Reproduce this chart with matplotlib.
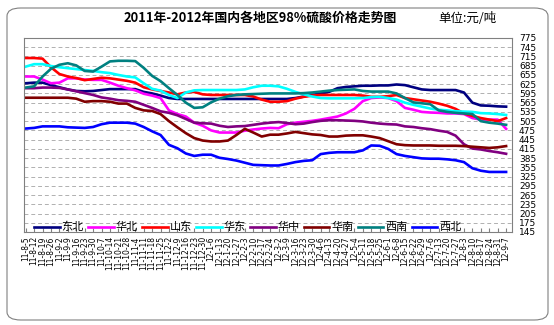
import matplotlib
matplotlib.use("Agg")
import matplotlib.pyplot as plt
from matplotlib.patches import FancyBboxPatch

plt.rcParams['font.family'] = ['Noto Sans CJK SC', 'DejaVu Sans']

# weekly dates (Fridays) 2011-8-5 .. 2012-9-7
dates = ["11-8-5", "11-8-12", "11-8-19", "11-8-26", "11-9-2", "11-9-9", "11-9-16",
         "11-9-23", "11-9-30", "11-10-7", "11-10-14", "11-10-21", "11-10-28",
         "11-11-4", "11-11-11", "11-11-18", "11-11-25", "11-12-2", "11-12-9",
         "11-12-16", "11-12-23", "11-12-30", "12-1-6", "12-1-13", "12-1-20",
         "12-1-27", "12-2-3", "12-2-10", "12-2-17", "12-2-24", "12-3-2", "12-3-9",
         "12-3-16", "12-3-23", "12-3-30", "12-4-6", "12-4-13", "12-4-20", "12-4-27",
         "12-5-4", "12-5-11", "12-5-18", "12-5-25", "12-6-1", "12-6-8", "12-6-15",
         "12-6-22", "12-6-29", "12-7-6", "12-7-13", "12-7-20", "12-7-27", "12-8-3",
         "12-8-10", "12-8-17", "12-8-24", "12-8-31", "12-9-7"]

dongbei = [628, 630, 630, 622, 615, 608, 603, 602, 603, 606, 609, 609, 609, 609, 600,
           595, 588, 580, 577, 577, 577, 577, 577, 577, 577, 577, 577, 577, 577, 577,
           577, 577, 580, 585, 590, 595, 600, 612, 616, 618, 620, 620, 621, 621, 624,
           622, 615, 608, 606, 606, 606, 606, 598, 565, 556, 555, 553, 552]
huabei = [650, 650, 640, 628, 630, 644, 644, 640, 639, 639, 630, 620, 612, 605, 594,
          588, 580, 540, 528, 520, 500, 490, 475, 468, 468, 468, 474, 478, 481, 483,
          482, 495, 500, 503, 506, 510, 515, 520, 530, 545, 570, 580, 582, 580, 570,
          548, 542, 535, 533, 532, 530, 530, 528, 515, 510, 510, 510, 480]
shandong = [710, 710, 708, 680, 658, 650, 645, 638, 642, 646, 644, 640, 636, 630, 615,
            608, 603, 598, 592, 598, 600, 592, 590, 590, 590, 590, 590, 585, 575, 568,
            568, 570, 578, 584, 588, 590, 590, 590, 590, 590, 588, 584, 584, 586, 590,
            580, 576, 572, 568, 562, 555, 545, 530, 522, 515, 510, 505, 515]
huadong = [682, 690, 690, 684, 680, 677, 674, 671, 668, 664, 661, 655, 650, 647, 628,
           610, 604, 590, 580, 598, 605, 606, 606, 606, 606, 606, 608, 615, 620, 620,
           618, 610, 600, 592, 585, 580, 579, 579, 579, 579, 580, 583, 584, 580, 575,
           565, 558, 552, 546, 542, 540, 537, 536, 535, 531, 530, 528, 525]
huazhong = [612, 612, 614, 614, 613, 608, 602, 596, 590, 582, 578, 573, 571, 568, 558,
            548, 537, 532, 524, 512, 500, 498, 497, 490, 486, 488, 489, 493, 497, 500,
            502, 499, 495, 497, 502, 506, 508, 508, 507, 506, 504, 500, 497, 495, 494,
            488, 486, 482, 479, 474, 470, 458, 430, 416, 413, 408, 404, 399]
huanan = [581, 581, 581, 581, 581, 581, 578, 568, 570, 570, 568, 562, 562, 548, 540,
          538, 528, 505, 485, 466, 450, 442, 439, 439, 442, 460, 480, 468, 455, 461,
          461, 465, 470, 466, 462, 460, 455, 455, 458, 459, 459, 455, 450, 440, 430,
          427, 426, 426, 426, 425, 425, 425, 424, 422, 420, 418, 420, 424]
xinan = [614, 618, 650, 675, 688, 693, 686, 668, 666, 682, 699, 701, 701, 700, 678,
         652, 635, 612, 590, 565, 548, 550, 566, 578, 586, 590, 592, 593, 594, 595,
         595, 595, 595, 596, 598, 601, 604, 606, 607, 608, 603, 601, 601, 601, 595,
         580, 566, 563, 560, 540, 535, 532, 530, 528, 505, 500, 497, 493]
xibei = [481, 483, 488, 488, 488, 485, 484, 483, 486, 495, 500, 500, 500, 497, 486,
         472, 460, 428, 417, 400, 392, 396, 396, 386, 382, 377, 370, 363, 362, 361,
         361, 366, 372, 376, 378, 398, 402, 404, 404, 404, 410, 426, 425, 415, 398,
         392, 388, 384, 383, 383, 381, 378, 372, 352, 344, 340, 340, 340]

series = [("东北", dongbei, "#000080"), ("华北", huabei, "#FF00FF"),
          ("山东", shandong, "#FF0000"), ("华东", huadong, "#00FFFF"),
          ("华中", huazhong, "#800080"), ("华南", huanan, "#800000"),
          ("西南", xinan, "#008080"), ("西北", xibei, "#0000FF")]

yticks = list(range(145, 776, 30))

fig = plt.figure(figsize=(5.54, 3.25), dpi=100)
fig.patch.set_facecolor("white")

# rounded outer frame
frame = FancyBboxPatch((7 / 554, 5 / 325), 541 / 554, 312 / 325,
                       boxstyle="round,pad=0,rounding_size=0.025",
                       transform=fig.transFigure, facecolor="none",
                       edgecolor="#808080", linewidth=0.8)
fig.patches.append(frame)

fig.text(260 / 554, 1 - 18 / 325, "2011年-2012年国内各地区98%硫酸价格走势图",
         ha="center", va="center", fontsize=9.3, fontweight="bold")
fig.text(467 / 554, 1 - 18 / 325, "单位:元/吨", ha="center", va="center", fontsize=9)

ax = fig.add_axes([24 / 554, 1 - 232 / 325, 488 / 554, 194 / 325])
x = list(range(len(dates)))
for name, vals, col in series:
    ax.plot(x, vals, color=col, lw=1.9, label=name)

ax.set_xlim(-0.2, 57.7)
ax.set_ylim(145, 775)
ax.set_yticks(yticks)
ax.yaxis.tick_right()
ax.tick_params(axis="y", length=0, pad=5, labelsize=6.5)
ax.set_xticks(x)
ax.set_xticklabels(dates, rotation=90, fontsize=5.5, family="DejaVu Sans")
ax.tick_params(axis="x", direction="in", length=3, pad=3, color="#808080")
for lab in ax.get_yticklabels():
    lab.set_family("DejaVu Sans")
ax.grid(axis="y", ls=(0, (4, 3)), color="#b0b0b0", lw=0.7)
ax.set_axisbelow(True)
for sp in ax.spines.values():
    sp.set_color("#808080")
    sp.set_linewidth(0.8)

ax.legend(loc="lower left", bbox_to_anchor=(0.012, -0.025), ncol=8, frameon=False,
          fontsize=8, handlelength=2.3, handletextpad=0.15, columnspacing=0.4,
          borderaxespad=0)

fig.savefig("out.png", dpi=100)
